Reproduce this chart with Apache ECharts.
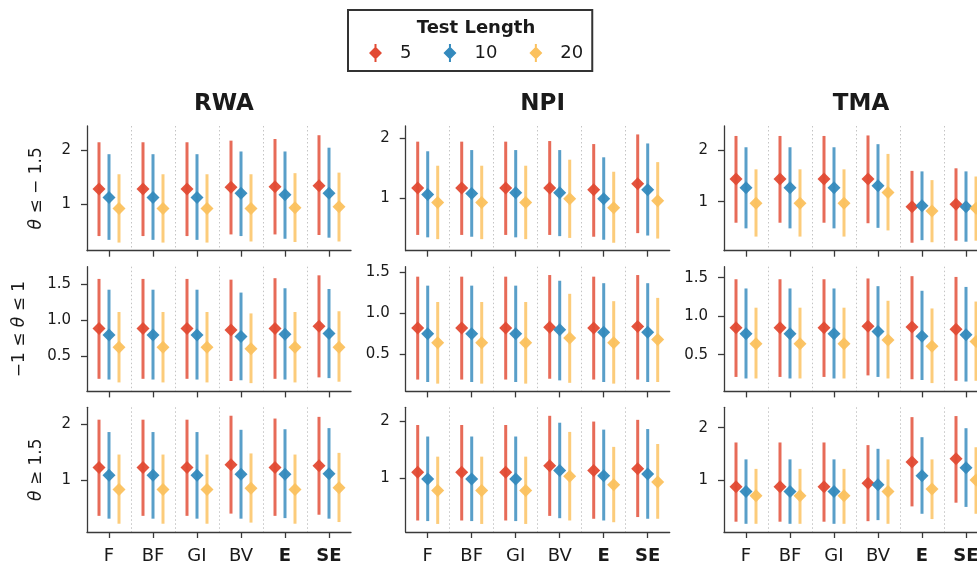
<!DOCTYPE html>
<html>
<head>
<meta charset="utf-8">
<script src="https://cdn.jsdelivr.net/npm/echarts@6/dist/echarts.min.js"></script>
<style>
html,body{margin:0;padding:0;background:#fff;}
#chart{width:977px;height:565px;}
</style>
</head>
<body>
<div id="chart"></div>
<script>
// ---------------- DATA ----------------
const categories = ['F', 'BF', 'GI', 'BV', 'E', 'SE'];
const boldCategories = ['E', 'SE'];
const testLengths = ['5', '10', '20'];
const methods = ['RWA', 'NPI', 'TMA'];
const rowLabels = ['{i|θ} ≤ − 1.5', '−1 ≤ {i|θ} ≤ 1', '{i|θ} ≥ 1.5'];
const yTicksRow1 = [1, 2];
const yTicksRow2 = [0.5, 1.0, 1.5];
const yTicksRow3 = [1, 2];

// Each array: [testLength 5, testLength 10, testLength 20] x categories
// Row 1: theta <= -1.5
const rwaLowMean = [[1.28,1.28,1.28,1.31,1.32,1.34],[1.12,1.12,1.12,1.20,1.17,1.20],[0.92,0.92,0.92,0.92,0.93,0.95]];
const rwaLowLo   = [[0.41,0.41,0.41,0.44,0.44,0.43],[0.34,0.34,0.34,0.41,0.36,0.38],[0.29,0.29,0.29,0.31,0.30,0.31]];
const rwaLowHi   = [[2.14,2.14,2.14,2.17,2.20,2.27],[1.92,1.92,1.92,1.97,1.97,2.04],[1.55,1.55,1.55,1.55,1.57,1.58]];
const npiLowMean = [[1.17,1.17,1.17,1.17,1.14,1.24],[1.06,1.08,1.09,1.09,0.99,1.14],[0.93,0.93,0.93,0.99,0.84,0.96]];
const npiLowLo   = [[0.39,0.39,0.39,0.39,0.36,0.42],[0.35,0.36,0.35,0.37,0.31,0.38],[0.32,0.32,0.32,0.34,0.26,0.33]];
const npiLowHi   = [[1.94,1.94,1.94,1.95,1.90,2.06],[1.78,1.80,1.80,1.80,1.68,1.91],[1.54,1.54,1.54,1.64,1.44,1.60]];
const tmaLowMean = [[1.44,1.44,1.44,1.44,0.90,0.95],[1.27,1.27,1.27,1.31,0.92,0.90],[0.97,0.97,0.97,1.18,0.82,0.87]];
const tmaLowLo   = [[0.59,0.59,0.59,0.58,0.20,0.24],[0.48,0.48,0.48,0.49,0.25,0.22],[0.32,0.32,0.32,0.44,0.21,0.24]];
const tmaLowHi   = [[2.28,2.28,2.28,2.29,1.60,1.65],[2.06,2.06,2.06,2.12,1.59,1.59],[1.63,1.63,1.63,1.93,1.42,1.49]];
// Row 2: -1 <= theta <= 1
const rwaMidMean = [[0.88,0.88,0.88,0.86,0.88,0.91],[0.79,0.79,0.79,0.77,0.80,0.81],[0.62,0.62,0.62,0.60,0.62,0.62]];
const rwaMidLo   = [[0.18,0.18,0.18,0.15,0.18,0.20],[0.17,0.17,0.17,0.16,0.17,0.19],[0.13,0.13,0.13,0.12,0.13,0.14]];
const rwaMidHi   = [[1.57,1.57,1.57,1.56,1.58,1.62],[1.42,1.42,1.42,1.38,1.44,1.43],[1.11,1.11,1.11,1.09,1.11,1.12]];
const npiMidMean = [[0.82,0.82,0.82,0.83,0.82,0.84],[0.75,0.75,0.75,0.80,0.77,0.77],[0.64,0.64,0.64,0.70,0.64,0.68]];
const npiMidLo   = [[0.19,0.19,0.19,0.20,0.19,0.19],[0.16,0.16,0.16,0.18,0.16,0.16],[0.14,0.14,0.14,0.15,0.14,0.16]];
const npiMidHi   = [[1.45,1.45,1.45,1.47,1.45,1.47],[1.34,1.34,1.34,1.40,1.37,1.37],[1.14,1.14,1.14,1.24,1.15,1.19]];
const tmaMidMean = [[0.85,0.85,0.85,0.87,0.86,0.83],[0.77,0.77,0.77,0.80,0.74,0.76],[0.64,0.64,0.64,0.69,0.61,0.67]];
const tmaMidLo   = [[0.21,0.21,0.21,0.23,0.18,0.16],[0.19,0.19,0.19,0.21,0.17,0.15],[0.19,0.19,0.19,0.19,0.13,0.16]];
const tmaMidHi   = [[1.48,1.48,1.48,1.49,1.52,1.51],[1.36,1.36,1.36,1.39,1.33,1.38],[1.11,1.11,1.11,1.20,1.10,1.19]];
// Row 3: theta >= 1.5
const rwaHighMean = [[1.23,1.23,1.23,1.28,1.23,1.26],[1.09,1.09,1.09,1.11,1.11,1.12],[0.84,0.84,0.84,0.86,0.84,0.87]];
const rwaHighLo   = [[0.37,0.37,0.37,0.41,0.37,0.39],[0.32,0.32,0.32,0.32,0.33,0.32],[0.23,0.23,0.23,0.25,0.23,0.26]];
const rwaHighHi   = [[2.08,2.08,2.08,2.15,2.10,2.13],[1.86,1.86,1.86,1.90,1.91,1.93],[1.46,1.46,1.46,1.48,1.46,1.49]];
const npiHighMean = [[1.11,1.11,1.11,1.22,1.14,1.17],[0.99,0.99,0.99,1.14,1.05,1.08],[0.79,0.79,0.79,1.04,0.89,0.94]];
const npiHighLo   = [[0.27,0.27,0.27,0.35,0.30,0.33],[0.26,0.26,0.26,0.31,0.27,0.30],[0.21,0.21,0.21,0.27,0.24,0.30]];
const npiHighHi   = [[1.93,1.93,1.93,2.09,1.99,2.02],[1.73,1.73,1.73,1.97,1.85,1.86],[1.38,1.38,1.38,1.81,1.55,1.60]];
const tmaHighMean = [[0.88,0.88,0.88,0.95,1.35,1.41],[0.79,0.79,0.79,0.92,1.09,1.24],[0.71,0.71,0.71,0.79,0.84,1.01]];
const tmaHighLo   = [[0.22,0.22,0.22,0.23,0.51,0.58],[0.18,0.18,0.18,0.25,0.37,0.50],[0.18,0.18,0.18,0.18,0.27,0.37]];
const tmaHighHi   = [[1.72,1.72,1.72,1.67,2.20,2.22],[1.40,1.40,1.40,1.60,1.82,1.99],[1.22,1.22,1.22,1.40,1.40,1.63]];

// ---------------- LAYOUT / STYLE ----------------
const colors = ['#E24A33', '#348ABD', '#FBC15E'];
const textColor = '#1a1a1a';
const spineColor = '#3a3a3a';
const colLeft = [87, 405.7, 724];
const rowTop = [126, 266.7, 407.3];
const panelW = 264, panelH = 124.7;
const yRange = [
  [[0.14, 2.44], [0.128, 2.2], [0.045, 2.474]],
  [[0.005, 1.74], [0.045, 1.572], [0.022, 1.643]],
  [[0.083, 2.30], [0.07, 2.238], [0.025, 2.386]]
];
const rowTicks = [yTicksRow1, yTicksRow2, yTicksRow3];
const rowNameGap = [42, 59, 42];

const panels = [
  [[rwaLowMean, rwaLowLo, rwaLowHi], [npiLowMean, npiLowLo, npiLowHi], [tmaLowMean, tmaLowLo, tmaLowHi]],
  [[rwaMidMean, rwaMidLo, rwaMidHi], [npiMidMean, npiMidLo, npiMidHi], [tmaMidMean, tmaMidLo, tmaMidHi]],
  [[rwaHighMean, rwaHighLo, rwaHighHi], [npiHighMean, npiHighLo, npiHighHi], [tmaHighMean, tmaHighLo, tmaHighHi]]
];

function makeRender(k) {
  return function (params, api) {
    const ci = api.value(0);
    const bw = api.size([1, 0])[0];
    const dx = (k - 1) * bw * 10 / 44;
    const pm = api.coord([ci, api.value(1)]);
    const pl = api.coord([ci, api.value(2)]);
    const ph = api.coord([ci, api.value(3)]);
    const x = pm[0] + dx, y = pm[1];
    const color = api.visual('color');
    const h = 6.5;
    return {
      type: 'group',
      children: [
        { type: 'line', shape: { x1: x, y1: pl[1], x2: x, y2: ph[1] },
          style: { stroke: color, lineWidth: 3, opacity: 0.82 } },
        { type: 'polygon', shape: { points: [[x - h, y], [x, y - h], [x + h, y], [x, y + h]] },
          style: { fill: color, opacity: 0.95 } }
      ]
    };
  };
}

const grids = [], xAxes = [], yAxes = [], series = [];
for (let r = 0; r < 3; r++) {
  for (let c = 0; c < 3; c++) {
    const idx = r * 3 + c;
    grids.push({ left: colLeft[c], top: rowTop[r], width: panelW, height: panelH,
      containLabel: false, outerBoundsMode: 'none' });
    xAxes.push({
      type: 'category', gridIndex: idx, data: categories, boundaryGap: true,
      axisLine: { show: true, lineStyle: { color: spineColor, width: 1.3 } },
      axisTick: { show: true, interval: 0, alignWithLabel: true, length: 6, lineStyle: { color: spineColor, width: 1.3 } },
      axisLabel: {
        show: r === 2, interval: 0, margin: 15, fontSize: 18, fontFamily: 'DejaVu Sans', color: textColor,
        formatter: function (v) { return boldCategories.indexOf(v) >= 0 ? '{b|' + v + '}' : v; },
        rich: { b: { fontWeight: 'bold', fontSize: 18, fontFamily: 'DejaVu Sans', color: textColor } }
      },
      splitLine: { show: true, interval: 0, showMinLine: false, showMaxLine: false,
        lineStyle: { color: '#c4c4c4', type: [1.5, 2.5], width: 1 } }
    });
    const ticks = rowTicks[r];
    yAxes.push({
      type: 'value', gridIndex: idx, min: yRange[r][c][0], max: yRange[r][c][1],
      axisLine: { show: true, lineStyle: { color: spineColor, width: 1.3 } },
      axisTick: { show: true, length: 6, customValues: ticks, lineStyle: { color: spineColor, width: 1.3 } },
      axisLabel: { show: true, customValues: ticks, margin: 16, fontSize: 15, fontFamily: 'DejaVu Sans', color: textColor,
        formatter: function (v) { return r === 1 ? Number(v).toFixed(1) : String(Math.round(v)); } },
      splitLine: { show: false },
      name: c === 0 ? rowLabels[r] : '',
      nameLocation: 'middle', nameRotate: 90, nameGap: rowNameGap[r],
      nameTextStyle: { fontSize: 17, fontFamily: 'DejaVu Sans', color: textColor,
        rich: { i: { fontStyle: 'italic', fontSize: 17, fontFamily: 'DejaVu Sans', color: textColor } } }
    });
    const [means, los, his] = panels[r][c];
    for (let k = 0; k < 3; k++) {
      series.push({
        type: 'custom', name: testLengths[k], xAxisIndex: idx, yAxisIndex: idx,
        itemStyle: { color: colors[k] },
        renderItem: makeRender(k),
        encode: { x: 0, y: [1, 2, 3] },
        data: categories.map((_, i) => [i, means[k][i], los[k][i], his[k][i]]),
        clip: false
      });
    }
  }
}

const titles = [{
  text: 'Test Length', left: 471, top: 14, textAlign: 'center',
  textStyle: { fontSize: 18, fontWeight: 'bold', fontFamily: 'DejaVu Sans', color: textColor }
}];
methods.forEach((m, c) => titles.push({
  text: m, left: colLeft[c] + panelW / 2, top: 88, textAlign: 'center',
  textStyle: { fontSize: 23, fontWeight: 'bold', fontFamily: 'DejaVu Sans', color: textColor }
}));

const option = {
  animation: false,
  backgroundColor: '#fff',
  title: titles,
  legend: {
    data: testLengths, left: 348, top: 10,
    padding: [34, 9, 9, 21],
    borderColor: '#333', borderWidth: 2, borderRadius: 0,
    icon: 'path://M0,9L6.5,2.5L13,9L6.5,15.5Z M5.5,0H7.5V18H5.5Z',
    itemWidth: 13, itemHeight: 18, itemGap: 32,
    formatter: function (n) { return '{t|' + n + '}'; },
    textStyle: { fontSize: 18, fontFamily: 'DejaVu Sans', color: textColor,
      rich: { t: { fontSize: 18, fontFamily: 'DejaVu Sans', color: textColor, padding: [0, 0, 0, 13] } } }
  },
  grid: grids,
  xAxis: xAxes,
  yAxis: yAxes,
  series: series
};

const chart = echarts.init(document.getElementById('chart'), null, { renderer: 'canvas' });
chart.setOption(option);
</script>
</body>
</html>
